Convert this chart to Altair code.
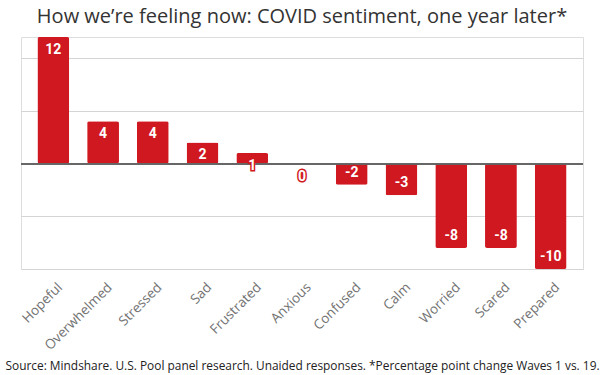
import altair as alt
import pandas as pd

categories = ["Hopeful", "Overwhelmed", "Stressed", "Sad", "Frustrated", "Anxious",
              "Confused", "Calm", "Worried", "Scared", "Prepared"]
values = [12, 4, 4, 2, 1, 0, -2, -3, -8, -8, -10]

df = pd.DataFrame({"feeling": categories, "change": values})
df["label"] = [str(v) for v in values]

RED = "#cf1820"

x = alt.X("feeling:N", sort=categories,
          scale=alt.Scale(paddingInner=0.36, paddingOuter=0.33),
          axis=alt.Axis(title="Source: Mindshare. U.S. Pool panel research. Unaided responses. *Percentage point change Waves 1 vs. 19.",
                        labelAngle=-45, labelAlign="right", labelBaseline="top",
                        labelFont="Open Sans", labelFontSize=13.5, labelColor="#727272",
                        labelPadding=11, labelOffset=2, domain=False, ticks=False,
                        titleFont="Open Sans", titleFontSize=11.9, titleFontWeight="normal",
                        titleColor="#222222", titleY=100, titleBaseline="alphabetic",
                        titleLimit=600))
y = alt.Y("change:Q", scale=alt.Scale(domain=[-10, 12], nice=False, zero=True),
          axis=alt.Axis(title=None, values=[-10, -5, 0, 5, 10], labels=False, ticks=False,
                        domain=False, grid=True, gridColor="#d4d4d4", gridWidth=1))

base = alt.Chart(df)

bars = base.mark_bar(color=RED, cornerRadius=2).encode(x=x, y=y)

zero = base.mark_rule(color="#666666", strokeWidth=1.2).encode(y=alt.datum(0))

def labels(cond, dy):
    b = base.transform_filter(cond)
    halo = b.mark_text(font="Roboto", fontSize=14, fontWeight="bold", color="white",
                       stroke=RED, strokeWidth=3, dy=dy, baseline="middle").encode(
        x=x, y=y, text="label:N")
    fill = b.mark_text(font="Roboto", fontSize=14, fontWeight="bold", color="white",
                       dy=dy, baseline="middle").encode(x=x, y=y, text="label:N")
    return halo + fill

chart = alt.layer(bars, zero, labels("datum.change >= 0", 13), labels("datum.change < 0", -12)).properties(
    width=562, height=232,
    title=alt.TitleParams("How we\u2019re feeling now: COVID sentiment, one year later*",
                          font="Open Sans", fontSize=20, fontWeight="normal", color="#333333",
                          anchor="middle", offset=10),
    autosize=alt.AutoSizeParams(type="none"),
    padding={"left": 21, "top": 37, "right": 17, "bottom": 106},
).configure_view(stroke=None).configure(background="white")

chart.save("out.html", embed_options={"renderer": "svg", "actions": False})
